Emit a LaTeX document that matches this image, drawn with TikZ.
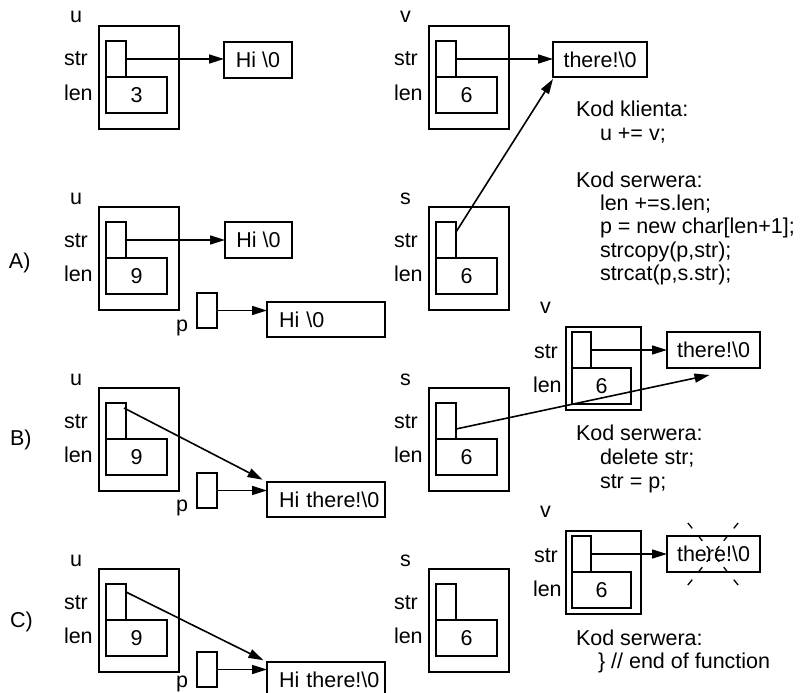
\documentclass[tikz,border=0pt]{standalone}
\usepackage{fontspec}
\setmainfont{Liberation Sans}
\usetikzlibrary{arrows.meta,calc}
\newcommand\fsz{\fontsize{21.5}{25}\selectfont}
\tikzset{
  box/.style={draw, line width=1.8pt, inner sep=0pt, outer sep=0pt, anchor=north west},
  bigbox/.style={box, minimum height=35pt, text width=94pt, align=left, inner xsep=12pt},
  txt/.style={inner sep=0pt, outer sep=0pt, anchor=base west},
  ptr/.style={line width=1.6pt, -{Triangle[length=15pt,width=9pt]}},
  burst/.style={line width=1.3pt},
}
\newcommand\bigstruct[5]{%
  \node[box,minimum width=80pt,minimum height=103pt] (#1) at (#2,#3) {};
  \node[box,minimum width=20pt,minimum height=36pt] (#1str) at ({#2+7},{#3+15}) {};
  \node[box,minimum width=61pt,minimum height=36pt] (#1len) at ({#2+7},{#3+51}) {#5};
  \node[txt] (#1name) at ({#2-29},{#3-3}) {#4};
  \node[txt] (#1strl) at ({#2-35},{#3+40}) {str};
  \node[txt] (#1lenl) at ({#2-35},{#3+74}) {len};
}
\newcommand\smallstruct[5]{%
  \node[box,minimum width=75pt,minimum height=83pt] (#1) at (#2,#3) {};
  \node[box,minimum width=19pt,minimum height=36pt] (#1str) at ({#2+6},{#3+5}) {};
  \node[box,minimum width=59pt,minimum height=36pt] (#1len) at ({#2+6},{#3+41}) {#5};
  \node[txt] (#1name) at ({#2-26},{#3-14}) {#4};
  \node[txt] (#1strl) at ({#2-32},{#3+31}) {str};
  \node[txt] (#1lenl) at ({#2-33},{#3+65}) {len};
}
\begin{document}
\begin{tikzpicture}[x=1pt,y=-1pt,font=\fsz]
\useasboundingbox (0,0) rectangle (801,693);

% ---------- top row ----------
\bigstruct{Tu}{99}{26}{u}{3}
\bigstruct{Tv}{429}{26}{v}{6}
\node[box,minimum width=68pt,minimum height=36pt] (Thi) at (224,42) {Hi \textbackslash 0};
\node[box,minimum width=94pt,minimum height=35pt] (Tthere) at (553,42) {there!\textbackslash 0};
\draw[ptr] (Tustr.east) -- (Tustr.east -| Thi.west);
\draw[ptr] (Tvstr.east) -- (Tvstr.east -| Tthere.west);

\node[txt] (kk) at (576,117) {Kod klienta:};
\node[txt] (kk1) at (600,140) {u += v;};
\node[txt] (ks) at (576,187) {Kod serwera:};
\node[txt] (ks1) at (600,210) {len +=s.len;};
\node[txt] (ks2) at (600,233) {p = new char[len+1];};
\node[txt] (ks3) at (600,257) {strcopy(p,str);};
\node[txt] (ks4) at (600,280) {strcat(p,s.str);};

% ---------- A ----------
\node[txt] (Alab) at (9,268) {A)};
\bigstruct{Au}{99}{207}{u}{9}
\bigstruct{As}{429}{207}{s}{6}
\node[box,minimum width=67pt,minimum height=36pt] (Ahi) at (225,222) {Hi \textbackslash 0};
\node[bigbox] (Abig) at (267,302) {\mbox{Hi \textbackslash 0}};
\node[box,minimum width=20pt,minimum height=35pt] (Ap) at (197,293) {};
\node[txt] (Apl) at (176,331) {p};
\draw[ptr] (Austr.east) -- (Austr.east -| Ahi.west);
\draw[ptr] (Ap.east) -- (Ap.east -| Abig.west);
\draw[ptr] ($(Asstr.north east)+(0,10)$) -- ($(Tthere.south west)+(0,2)$);

% ---------- B ----------
\node[txt] (Blab) at (10,445) {B)};
\bigstruct{Bu}{99}{388}{u}{9}
\bigstruct{Bs}{429}{388}{s}{6}
\smallstruct{Bv}{566}{327}{v}{6}
\node[box,minimum width=93pt,minimum height=36pt] (Bthere) at (667,332) {there!\textbackslash 0};
\node[bigbox] (Bbig) at (267,482) {\mbox{Hi there!\textbackslash 0}};
\node[box,minimum width=20pt,minimum height=35pt] (Bp) at (197,473) {};
\node[txt] (Bpl) at (176,511) {p};
\draw[ptr,shorten >=5pt] ($(Bustr.north east)+(-2,5)$) -- (Bbig.north west);
\draw[ptr] (Bp.east) -- (Bp.east -| Bbig.west);
\draw[ptr] ($(Bsstr.east)+(0,8)$) -- ($(Bthere.south)+(-4,7)$);
\draw[ptr] (Bvstr.east) -- (Bvstr.east -| Bthere.west);
\node[txt] (bk) at (576,440) {Kod serwera:};
\node[txt] (bk1) at (600,464) {delete str;};
\node[txt] (bk2) at (600,488) {str = p;};

% ---------- C ----------
\node[txt] (Clab) at (10,627) {C)};
\bigstruct{Cu}{99}{569}{u}{9}
\bigstruct{Cs}{429}{569}{s}{6}
\smallstruct{Cv}{566}{531}{v}{6}
\node[box,minimum width=93pt,minimum height=36pt] (Cthere) at (667,536) {there!\textbackslash 0};
\node[bigbox] (Cbig) at (267,662) {\mbox{Hi there!\textbackslash 0}};
\node[box,minimum width=20pt,minimum height=35pt] (Cp) at (197,652) {};
\node[txt] (Cpl) at (176,687) {p};
\draw[ptr,shorten >=4pt] ($(Custr.north east)+(0,8)$) -- (Cbig.north west);
\draw[ptr] (Cp.east) -- (Cp.east -| Cbig.west);
\draw[ptr] (Cvstr.east) -- (Cvstr.east -| Cthere.west);
\node[txt] (ck) at (576,645) {Kod serwera:};
\node[txt] (ck1) at (598,668) {\} // end of function};

% burst over the freed string
\coordinate (boom) at (713,554);
\foreach \a in {51,129,231,309} {
  \foreach \r/\s in {5/10,17/23,33/40} {
    \draw[burst] ($(boom)+(\a:\r)$) -- ($(boom)+(\a:\s)$);
  }
}
\end{tikzpicture}
\end{document}
